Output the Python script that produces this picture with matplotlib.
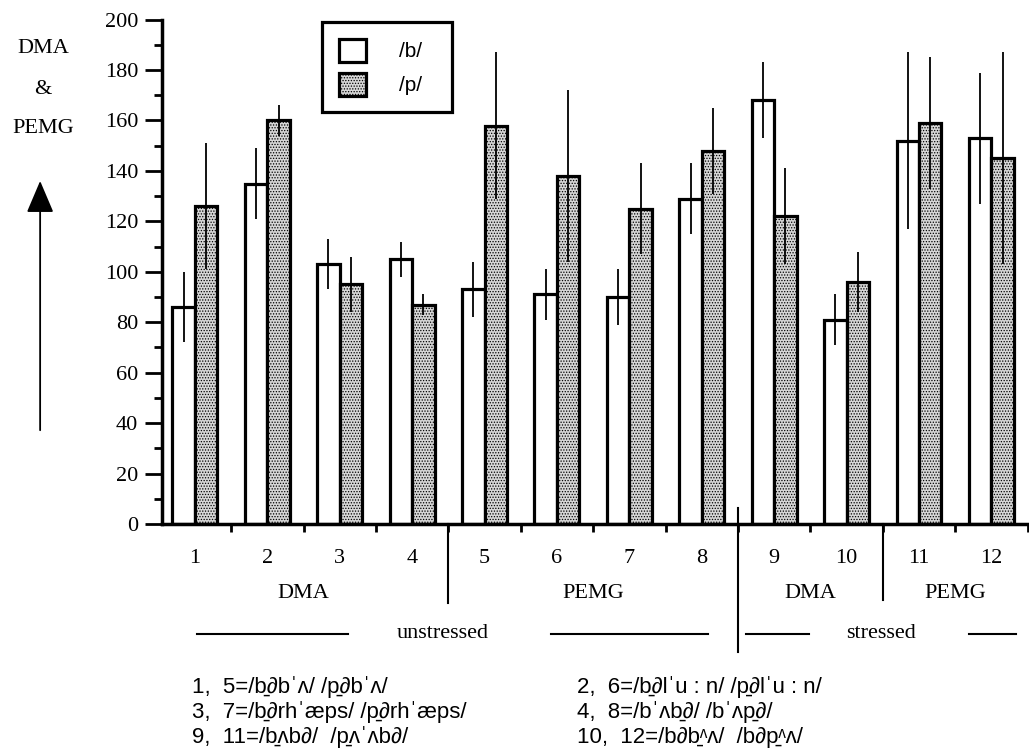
import numpy as np
import matplotlib
matplotlib.use("Agg")
import matplotlib.pyplot as plt
from matplotlib.ticker import MultipleLocator

# values (DMA / PEMG, arbitrary units)
groups = [1, 2, 3, 4, 5, 6, 7, 8, 9, 10, 11, 12]
b_vals = [86, 135, 103, 105, 93, 91, 90, 129, 168, 81, 152, 153]
b_err = [14, 14, 10, 7, 11, 10, 11, 14, 15, 10, 35, 26]
p_vals = [126, 160, 95, 87, 158, 138, 125, 148, 122, 96, 159, 145]
p_err = [25, 6, 11, 4, 29, 34, 18, 17, 19, 12, 26, 42]

group_labels = ["DMA", "PEMG", "DMA", "PEMG"]
group_pos = [2.5, 6.5, 9.5, 11.5]

legend_labels = ["/b/", "/p/"]

key_lines = [
    ("1,  5=/b\u0331\u2202b\u02c8\u028c/ /p\u0331\u2202b\u02c8\u028c/",
     "2,  6=/b\u0331\u2202l\u02c8u : n/ /p\u0331\u2202l\u02c8u : n/"),
    ("3,  7=/b\u0331\u2202rh\u02c8\u00e6ps/ /p\u0331\u2202rh\u02c8\u00e6ps/",
     "4,  8=/b\u02c8\u028cb\u0331\u2202/ /b\u02c8\u028cp\u0331\u2202/"),
    ("9,  11=/b\u0331\u028cb\u2202/  /p\u0331\u028c\u02c8\u028cb\u2202/",
     "10,  12=/b\u2202b\u0331\u1dba\u028c/  /b\u2202p\u0331\u1dba\u028c/"),
]

serif = ["Liberation Serif", "DejaVu Serif"]
sans = ["Liberation Sans", "DejaVu Sans"]
plt.rcParams["font.family"] = serif
plt.rcParams["hatch.linewidth"] = 0.6

fig = plt.figure(figsize=(10.29, 7.55), dpi=100)
ax = fig.add_axes([0.1574, 0.306, 0.8426, 0.668])

x = np.array(groups, dtype=float)
w = 0.31
bars_b = ax.bar(x - w / 2, b_vals, width=w, facecolor="white", edgecolor="black",
                linewidth=2.3, zorder=2)
bars_p = ax.bar(x + w / 2, p_vals, width=w, facecolor="#d6d6d6", edgecolor="black",
                linewidth=2.3, hatch="......", zorder=2)
ax.errorbar(x - w / 2, b_vals, yerr=b_err, fmt="none", ecolor="black",
            elinewidth=1.3, capsize=0, zorder=3)
ax.errorbar(x + w / 2, p_vals, yerr=p_err, fmt="none", ecolor="black",
            elinewidth=1.3, capsize=0, zorder=3)

ax.set_xlim(0.545, 12.52)
ax.set_ylim(0, 200)
for s in ["top", "right"]:
    ax.spines[s].set_visible(False)
ax.spines["left"].set_linewidth(2.5)
ax.spines["bottom"].set_linewidth(2.5)

ax.yaxis.set_major_locator(MultipleLocator(20))
ax.yaxis.set_minor_locator(MultipleLocator(10))
ax.tick_params(axis="y", which="major", length=12, width=2, labelsize=16, pad=5)
ax.tick_params(axis="y", which="minor", length=6, width=2)

ax.set_xticks(x)
ax.set_xticklabels([str(g) for g in groups])
ax.set_xticks(np.arange(1.5, 13, 1), minor=True)
ax.tick_params(axis="x", which="major", length=0, labelsize=16, pad=18)
ax.tick_params(axis="x", which="minor", length=6, width=2)

tr = ax.get_xaxis_transform()
for lab, pos in zip(group_labels, group_pos):
    ax.text(pos, -0.137, lab, transform=tr, ha="center", va="center", fontsize=16)

# dividers below the axis
ax.plot([4.5, 4.5], [0, -0.157], transform=tr, color="black", lw=1.5, clip_on=False)
ax.plot([10.5, 10.5], [0, -0.15], transform=tr, color="black", lw=1.5, clip_on=False)
ax.plot([8.5, 8.5], [0.032, -0.254], transform=tr, color="black", lw=1.5, clip_on=False)

# stress row
row_y = -0.218
for x0, x1 in [(1.03, 3.11), (5.92, 8.08), (8.61, 9.48), (11.69, 12.34)]:
    ax.plot([x0, x1], [row_y, row_y], transform=tr, color="black", lw=1.5, clip_on=False)
ax.text(4.42, row_y, "unstressed", transform=tr, ha="center", va="center", fontsize=16)
ax.text(10.48, row_y, "stressed", transform=tr, ha="center", va="center", fontsize=16)

leg = ax.legend([bars_b, bars_p], legend_labels, loc="upper left",
                bbox_to_anchor=(0.1845, 0.795, 0.15, 0.2), mode="expand",
                borderaxespad=0, prop={"family": sans, "size": 15}, frameon=True,
                fancybox=False, framealpha=1, edgecolor="black", handlelength=1.3,
                handleheight=1.3, handletextpad=1.6, labelspacing=0.55,
                borderpad=0.8)
leg.get_frame().set_linewidth(2.3)

# left label with arrow
fig.text(0.0418, 0.936, "DMA", ha="center", va="center", fontsize=16)
fig.text(0.0418, 0.881, "&", ha="center", va="center", fontsize=16)
fig.text(0.0418, 0.830, "PEMG", ha="center", va="center", fontsize=16)
ax.annotate("", xy=(0.039, 0.764), xytext=(0.039, 0.4265),
            xycoords="figure fraction", textcoords="figure fraction",
            arrowprops=dict(arrowstyle="-|>,head_length=2.0,head_width=0.85",
                            color="black", lw=1.3))

# key of the test words
for i, (left, right) in enumerate(key_lines):
    yy = 1 - (687 + 25 * i) / 755
    fig.text(192 / 1029, yy, left, ha="left", va="center", fontsize=16, family=sans)
    fig.text(577 / 1029, yy, right, ha="left", va="center", fontsize=16, family=sans)

fig.savefig("out.png", dpi=100)
